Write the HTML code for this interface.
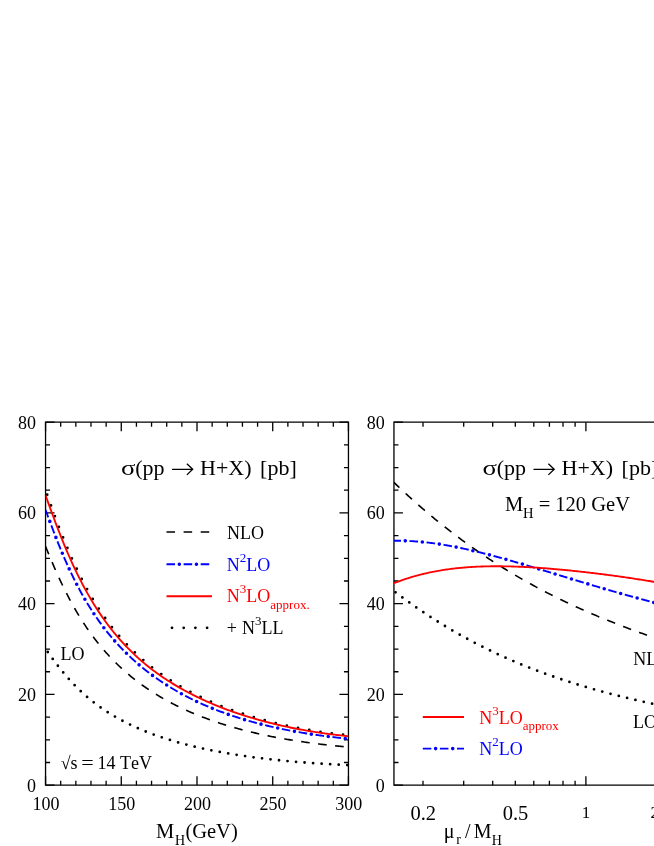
<!DOCTYPE html>
<html><head><meta charset="utf-8"><title>plot</title>
<style>
html,body{margin:0;padding:0;background:#fff;}
body{width:654px;height:846px;overflow:hidden;}
svg{display:block;font-family:"Liberation Serif",serif;will-change:transform;transform:translateZ(0);font-kerning:none;font-variant-ligatures:none;}
</style></head><body>
<svg width="654" height="846" viewBox="0 0 654 846">
<defs>
<clipPath id="c1"><rect x="45.55" y="422.15" width="302.9" height="363.05000000000007"/></clipPath>
<clipPath id="c2"><rect x="393.95" y="422.15" width="300" height="363.05000000000007"/></clipPath>
</defs>
<rect width="654" height="846" fill="#fff"/>
<path d="M45.55 422.15 H348.45 V785.2 H45.55 Z" stroke="#000" stroke-width="1.3" fill="none"/>
<path d="M700 422.15 H393.95 V785.2 H700" stroke="#000" stroke-width="1.3" fill="none"/>
<path d="M45.55 785.20 h9.0 M348.45 785.20 h-9.0 M393.95 785.20 h9.0 M45.55 762.51 h4.5 M348.45 762.51 h-4.5 M393.95 762.51 h4.5 M45.55 739.82 h4.5 M348.45 739.82 h-4.5 M393.95 739.82 h4.5 M45.55 717.13 h4.5 M348.45 717.13 h-4.5 M393.95 717.13 h4.5 M45.55 694.44 h9.0 M348.45 694.44 h-9.0 M393.95 694.44 h9.0 M45.55 671.75 h4.5 M348.45 671.75 h-4.5 M393.95 671.75 h4.5 M45.55 649.06 h4.5 M348.45 649.06 h-4.5 M393.95 649.06 h4.5 M45.55 626.37 h4.5 M348.45 626.37 h-4.5 M393.95 626.37 h4.5 M45.55 603.67 h9.0 M348.45 603.67 h-9.0 M393.95 603.67 h9.0 M45.55 580.98 h4.5 M348.45 580.98 h-4.5 M393.95 580.98 h4.5 M45.55 558.29 h4.5 M348.45 558.29 h-4.5 M393.95 558.29 h4.5 M45.55 535.60 h4.5 M348.45 535.60 h-4.5 M393.95 535.60 h4.5 M45.55 512.91 h9.0 M348.45 512.91 h-9.0 M393.95 512.91 h9.0 M45.55 490.22 h4.5 M348.45 490.22 h-4.5 M393.95 490.22 h4.5 M45.55 467.53 h4.5 M348.45 467.53 h-4.5 M393.95 467.53 h4.5 M45.55 444.84 h4.5 M348.45 444.84 h-4.5 M393.95 444.84 h4.5 M45.55 422.15 h9.0 M348.45 422.15 h-9.0 M393.95 422.15 h9.0 M45.55 785.2 v-9.0 M45.55 422.15 v9.0 M60.69 785.2 v-4.5 M60.69 422.15 v4.5 M75.84 785.2 v-4.5 M75.84 422.15 v4.5 M90.98 785.2 v-4.5 M90.98 422.15 v4.5 M106.13 785.2 v-4.5 M106.13 422.15 v4.5 M121.27 785.2 v-9.0 M121.27 422.15 v9.0 M136.42 785.2 v-4.5 M136.42 422.15 v4.5 M151.56 785.2 v-4.5 M151.56 422.15 v4.5 M166.71 785.2 v-4.5 M166.71 422.15 v4.5 M181.86 785.2 v-4.5 M181.86 422.15 v4.5 M197.00 785.2 v-9.0 M197.00 422.15 v9.0 M212.14 785.2 v-4.5 M212.14 422.15 v4.5 M227.29 785.2 v-4.5 M227.29 422.15 v4.5 M242.44 785.2 v-4.5 M242.44 422.15 v4.5 M257.58 785.2 v-4.5 M257.58 422.15 v4.5 M272.72 785.2 v-9.0 M272.72 422.15 v9.0 M287.87 785.2 v-4.5 M287.87 422.15 v4.5 M303.01 785.2 v-4.5 M303.01 422.15 v4.5 M318.16 785.2 v-4.5 M318.16 422.15 v4.5 M333.31 785.2 v-4.5 M333.31 422.15 v4.5 M348.45 785.2 v-9.0 M348.45 422.15 v9.0 M423.00 785.2 v-4.5 M423.00 422.15 v4.5 M463.70 785.2 v-4.5 M463.70 422.15 v4.5 M492.70 785.2 v-4.5 M492.70 422.15 v4.5 M515.30 785.2 v-4.5 M515.30 422.15 v4.5 M533.80 785.2 v-4.5 M533.80 422.15 v4.5 M549.40 785.2 v-4.5 M549.40 422.15 v4.5 M563.00 785.2 v-4.5 M563.00 422.15 v4.5 M575.10 785.2 v-4.5 M575.10 422.15 v4.5 M585.90 785.2 v-9.0 M585.90 422.15 v9.0 M656.60 785.2 v-4.5 M656.60 422.15 v4.5" stroke="#000" stroke-width="1.3" fill="none"/>
<g clip-path="url(#c1)">
<path d="M45.55 648.89 L46.82 650.70 L48.08 652.50 L49.35 654.29 L50.62 656.06 L51.89 657.80 L53.15 659.53 L54.42 661.24 L55.69 662.92 L56.96 664.59 L58.22 666.22 L59.49 667.84 L60.76 669.42 L62.03 670.99 L63.29 672.53 L64.56 674.04 L65.83 675.53 L67.10 676.99 L68.36 678.43 L69.63 679.84 L70.90 681.22 L72.16 682.59 L73.43 683.92 L74.70 685.24 L75.97 686.53 L77.23 687.79 L78.50 689.04 L79.77 690.26 L81.04 691.46 L82.30 692.63 L83.57 693.79 L84.84 694.92 L86.11 696.03 L87.37 697.12 L88.64 698.20 L89.91 699.25 L91.18 700.28 L92.44 701.30 L93.71 702.29 L94.98 703.27 L96.24 704.23 L97.51 705.18 L98.78 706.11 L100.05 707.02 L101.31 707.91 L102.58 708.79 L103.85 709.65 L105.12 710.50 L106.38 711.34 L107.65 712.16 L108.92 712.96 L110.19 713.76 L111.45 714.53 L112.72 715.30 L113.99 716.05 L115.26 716.79 L116.52 717.52 L117.79 718.24 L119.06 718.94 L120.32 719.64 L121.59 720.32 L122.86 720.99 L124.13 721.65 L125.39 722.30 L126.66 722.94 L127.93 723.57 L129.20 724.19 L130.46 724.81 L131.73 725.41 L133.00 726.00 L134.27 726.58 L135.53 727.16 L136.80 727.72 L138.07 728.28 L139.33 728.83 L140.60 729.37 L141.87 729.91 L143.14 730.43 L144.40 730.95 L145.67 731.46 L146.94 731.97 L148.21 732.46 L149.47 732.95 L150.74 733.43 L152.01 733.91 L153.28 734.38 L154.54 734.84 L155.81 735.30 L157.08 735.74 L158.35 736.19 L159.61 736.63 L160.88 737.06 L162.15 737.48 L163.41 737.90 L164.68 738.32 L165.95 738.72 L167.22 739.13 L168.48 739.53 L169.75 739.92 L171.02 740.31 L172.29 740.69 L173.55 741.06 L174.82 741.44 L176.09 741.80 L177.36 742.17 L178.62 742.52 L179.89 742.88 L181.16 743.23 L182.43 743.57 L183.69 743.91 L184.96 744.24 L186.23 744.58 L187.49 744.90 L188.76 745.22 L190.03 745.54 L191.30 745.86 L192.56 746.17 L193.83 746.47 L195.10 746.78 L196.37 747.08 L197.63 747.37 L198.90 747.66 L200.17 747.95 L201.44 748.23 L202.70 748.51 L203.97 748.79 L205.24 749.06 L206.51 749.33 L207.77 749.60 L209.04 749.86 L210.31 750.12 L211.57 750.38 L212.84 750.63 L214.11 750.88 L215.38 751.13 L216.64 751.37 L217.91 751.61 L219.18 751.85 L220.45 752.09 L221.71 752.32 L222.98 752.55 L224.25 752.78 L225.52 753.00 L226.78 753.22 L228.05 753.44 L229.32 753.65 L230.59 753.87 L231.85 754.08 L233.12 754.28 L234.39 754.49 L235.65 754.69 L236.92 754.89 L238.19 755.09 L239.46 755.28 L240.72 755.47 L241.99 755.66 L243.26 755.85 L244.53 756.03 L245.79 756.22 L247.06 756.40 L248.33 756.58 L249.60 756.75 L250.86 756.92 L252.13 757.10 L253.40 757.26 L254.67 757.43 L255.93 757.60 L257.20 757.76 L258.47 757.92 L259.73 758.08 L261.00 758.23 L262.27 758.39 L263.54 758.54 L264.80 758.69 L266.07 758.84 L267.34 758.99 L268.61 759.13 L269.87 759.27 L271.14 759.42 L272.41 759.55 L273.68 759.69 L274.94 759.83 L276.21 759.96 L277.48 760.09 L278.74 760.22 L280.01 760.35 L281.28 760.48 L282.55 760.60 L283.81 760.73 L285.08 760.85 L286.35 760.97 L287.62 761.09 L288.88 761.20 L290.15 761.32 L291.42 761.43 L292.69 761.54 L293.95 761.65 L295.22 761.76 L296.49 761.87 L297.76 761.97 L299.02 762.08 L300.29 762.18 L301.56 762.28 L302.82 762.38 L304.09 762.48 L305.36 762.58 L306.63 762.67 L307.89 762.77 L309.16 762.86 L310.43 762.95 L311.70 763.04 L312.96 763.13 L314.23 763.22 L315.50 763.30 L316.77 763.39 L318.03 763.47 L319.30 763.55 L320.57 763.63 L321.84 763.71 L323.10 763.79 L324.37 763.87 L325.64 763.94 L326.90 764.02 L328.17 764.09 L329.44 764.16 L330.71 764.23 L331.97 764.30 L333.24 764.37 L334.51 764.44 L335.78 764.50 L337.04 764.57 L338.31 764.63 L339.58 764.69 L340.85 764.76 L342.11 764.82 L343.38 764.88 L344.65 764.93 L345.92 764.99 L347.18 765.05 L348.45 765.10" fill="none" stroke="#000" stroke-width="2.8" stroke-linecap="round" stroke-dasharray="0 8.55" stroke-dashoffset="-3.8"/>
<path d="M45.55 546.32 L46.82 549.46 L48.08 552.58 L49.35 555.66 L50.62 558.70 L51.89 561.71 L53.15 564.68 L54.42 567.60 L55.69 570.49 L56.96 573.33 L58.22 576.12 L59.49 578.88 L60.76 581.59 L62.03 584.25 L63.29 586.87 L64.56 589.44 L65.83 591.97 L67.10 594.46 L68.36 596.90 L69.63 599.30 L70.90 601.66 L72.16 603.97 L73.43 606.25 L74.70 608.48 L75.97 610.67 L77.23 612.82 L78.50 614.93 L79.77 617.01 L81.04 619.04 L82.30 621.04 L83.57 623.01 L84.84 624.93 L86.11 626.83 L87.37 628.68 L88.64 630.51 L89.91 632.30 L91.18 634.06 L92.44 635.79 L93.71 637.49 L94.98 639.16 L96.24 640.79 L97.51 642.40 L98.78 643.99 L100.05 645.54 L101.31 647.07 L102.58 648.57 L103.85 650.05 L105.12 651.50 L106.38 652.92 L107.65 654.33 L108.92 655.71 L110.19 657.06 L111.45 658.40 L112.72 659.71 L113.99 661.00 L115.26 662.27 L116.52 663.52 L117.79 664.75 L119.06 665.96 L120.32 667.15 L121.59 668.32 L122.86 669.47 L124.13 670.61 L125.39 671.73 L126.66 672.83 L127.93 673.91 L129.20 674.98 L130.46 676.03 L131.73 677.07 L133.00 678.09 L134.27 679.10 L135.53 680.09 L136.80 681.06 L138.07 682.02 L139.33 682.97 L140.60 683.91 L141.87 684.83 L143.14 685.74 L144.40 686.63 L145.67 687.51 L146.94 688.38 L148.21 689.24 L149.47 690.09 L150.74 690.92 L152.01 691.74 L153.28 692.55 L154.54 693.36 L155.81 694.14 L157.08 694.92 L158.35 695.69 L159.61 696.45 L160.88 697.20 L162.15 697.93 L163.41 698.66 L164.68 699.38 L165.95 700.09 L167.22 700.79 L168.48 701.48 L169.75 702.16 L171.02 702.83 L172.29 703.50 L173.55 704.15 L174.82 704.80 L176.09 705.44 L177.36 706.07 L178.62 706.69 L179.89 707.31 L181.16 707.91 L182.43 708.51 L183.69 709.10 L184.96 709.69 L186.23 710.26 L187.49 710.83 L188.76 711.39 L190.03 711.95 L191.30 712.50 L192.56 713.04 L193.83 713.57 L195.10 714.10 L196.37 714.62 L197.63 715.14 L198.90 715.65 L200.17 716.15 L201.44 716.65 L202.70 717.14 L203.97 717.62 L205.24 718.10 L206.51 718.57 L207.77 719.04 L209.04 719.50 L210.31 719.96 L211.57 720.41 L212.84 720.85 L214.11 721.29 L215.38 721.72 L216.64 722.15 L217.91 722.57 L219.18 722.99 L220.45 723.41 L221.71 723.81 L222.98 724.22 L224.25 724.62 L225.52 725.01 L226.78 725.40 L228.05 725.78 L229.32 726.16 L230.59 726.54 L231.85 726.91 L233.12 727.27 L234.39 727.63 L235.65 727.99 L236.92 728.34 L238.19 728.69 L239.46 729.04 L240.72 729.38 L241.99 729.71 L243.26 730.05 L244.53 730.37 L245.79 730.70 L247.06 731.02 L248.33 731.33 L249.60 731.65 L250.86 731.96 L252.13 732.26 L253.40 732.56 L254.67 732.86 L255.93 733.15 L257.20 733.44 L258.47 733.73 L259.73 734.01 L261.00 734.29 L262.27 734.57 L263.54 734.84 L264.80 735.11 L266.07 735.38 L267.34 735.64 L268.61 735.90 L269.87 736.16 L271.14 736.42 L272.41 736.67 L273.68 736.91 L274.94 737.16 L276.21 737.40 L277.48 737.64 L278.74 737.87 L280.01 738.11 L281.28 738.34 L282.55 738.56 L283.81 738.79 L285.08 739.01 L286.35 739.23 L287.62 739.44 L288.88 739.66 L290.15 739.87 L291.42 740.08 L292.69 740.28 L293.95 740.48 L295.22 740.68 L296.49 740.88 L297.76 741.08 L299.02 741.27 L300.29 741.46 L301.56 741.65 L302.82 741.83 L304.09 742.02 L305.36 742.20 L306.63 742.38 L307.89 742.55 L309.16 742.73 L310.43 742.90 L311.70 743.07 L312.96 743.23 L314.23 743.40 L315.50 743.56 L316.77 743.72 L318.03 743.88 L319.30 744.04 L320.57 744.19 L321.84 744.34 L323.10 744.49 L324.37 744.64 L325.64 744.79 L326.90 744.93 L328.17 745.07 L329.44 745.21 L330.71 745.35 L331.97 745.49 L333.24 745.62 L334.51 745.75 L335.78 745.88 L337.04 746.01 L338.31 746.14 L339.58 746.26 L340.85 746.39 L342.11 746.51 L343.38 746.63 L344.65 746.75 L345.92 746.86 L347.18 746.98 L348.45 747.09" fill="none" stroke="#000" stroke-width="1.6" stroke-dasharray="8.55 8.55" stroke-dashoffset="0.0"/>
<path d="M45.55 490.00 L46.82 493.63 L48.08 497.24 L49.35 500.83 L50.62 504.39 L51.89 507.92 L53.15 511.43 L54.42 514.90 L55.69 518.33 L56.96 521.72 L58.22 525.08 L59.49 528.39 L60.76 531.66 L62.03 534.88 L63.29 538.06 L64.56 541.19 L65.83 544.28 L67.10 547.32 L68.36 550.31 L69.63 553.26 L70.90 556.15 L72.16 559.00 L73.43 561.81 L74.70 564.56 L75.97 567.27 L77.23 569.94 L78.50 572.56 L79.77 575.13 L81.04 577.66 L82.30 580.14 L83.57 582.58 L84.84 584.98 L86.11 587.33 L87.37 589.64 L88.64 591.91 L89.91 594.14 L91.18 596.34 L92.44 598.49 L93.71 600.60 L94.98 602.68 L96.24 604.72 L97.51 606.72 L98.78 608.68 L100.05 610.62 L101.31 612.51 L102.58 614.38 L103.85 616.21 L105.12 618.01 L106.38 619.78 L107.65 621.51 L108.92 623.22 L110.19 624.90 L111.45 626.55 L112.72 628.17 L113.99 629.76 L115.26 631.33 L116.52 632.87 L117.79 634.38 L119.06 635.87 L120.32 637.33 L121.59 638.77 L122.86 640.19 L124.13 641.58 L125.39 642.95 L126.66 644.30 L127.93 645.62 L129.20 646.93 L130.46 648.21 L131.73 649.48 L133.00 650.72 L134.27 651.94 L135.53 653.15 L136.80 654.34 L138.07 655.51 L139.33 656.66 L140.60 657.79 L141.87 658.91 L143.14 660.01 L144.40 661.09 L145.67 662.16 L146.94 663.22 L148.21 664.25 L149.47 665.28 L150.74 666.28 L152.01 667.28 L153.28 668.26 L154.54 669.22 L155.81 670.17 L157.08 671.11 L158.35 672.04 L159.61 672.95 L160.88 673.85 L162.15 674.74 L163.41 675.62 L164.68 676.49 L165.95 677.34 L167.22 678.18 L168.48 679.01 L169.75 679.83 L171.02 680.64 L172.29 681.44 L173.55 682.23 L174.82 683.01 L176.09 683.78 L177.36 684.54 L178.62 685.29 L179.89 686.03 L181.16 686.77 L182.43 687.49 L183.69 688.20 L184.96 688.91 L186.23 689.61 L187.49 690.29 L188.76 690.97 L190.03 691.65 L191.30 692.31 L192.56 692.96 L193.83 693.61 L195.10 694.25 L196.37 694.89 L197.63 695.51 L198.90 696.13 L200.17 696.74 L201.44 697.35 L202.70 697.94 L203.97 698.53 L205.24 699.12 L206.51 699.69 L207.77 700.26 L209.04 700.83 L210.31 701.38 L211.57 701.94 L212.84 702.48 L214.11 703.02 L215.38 703.55 L216.64 704.08 L217.91 704.60 L219.18 705.11 L220.45 705.62 L221.71 706.13 L222.98 706.62 L224.25 707.12 L225.52 707.60 L226.78 708.09 L228.05 708.56 L229.32 709.03 L230.59 709.50 L231.85 709.96 L233.12 710.41 L234.39 710.86 L235.65 711.31 L236.92 711.75 L238.19 712.19 L239.46 712.62 L240.72 713.04 L241.99 713.46 L243.26 713.88 L244.53 714.29 L245.79 714.70 L247.06 715.10 L248.33 715.50 L249.60 715.89 L250.86 716.28 L252.13 716.67 L253.40 717.05 L254.67 717.42 L255.93 717.80 L257.20 718.16 L258.47 718.53 L259.73 718.89 L261.00 719.24 L262.27 719.59 L263.54 719.94 L264.80 720.28 L266.07 720.62 L267.34 720.96 L268.61 721.29 L269.87 721.62 L271.14 721.94 L272.41 722.26 L273.68 722.57 L274.94 722.89 L276.21 723.19 L277.48 723.50 L278.74 723.80 L280.01 724.10 L281.28 724.39 L282.55 724.68 L283.81 724.97 L285.08 725.25 L286.35 725.53 L287.62 725.80 L288.88 726.08 L290.15 726.35 L291.42 726.61 L292.69 726.87 L293.95 727.13 L295.22 727.39 L296.49 727.64 L297.76 727.89 L299.02 728.13 L300.29 728.37 L301.56 728.61 L302.82 728.84 L304.09 729.08 L305.36 729.30 L306.63 729.53 L307.89 729.75 L309.16 729.97 L310.43 730.19 L311.70 730.40 L312.96 730.61 L314.23 730.81 L315.50 731.02 L316.77 731.22 L318.03 731.41 L319.30 731.61 L320.57 731.80 L321.84 731.98 L323.10 732.17 L324.37 732.35 L325.64 732.53 L326.90 732.70 L328.17 732.87 L329.44 733.04 L330.71 733.21 L331.97 733.37 L333.24 733.53 L334.51 733.69 L335.78 733.84 L337.04 734.00 L338.31 734.14 L339.58 734.29 L340.85 734.43 L342.11 734.57 L343.38 734.71 L344.65 734.84 L345.92 734.97 L347.18 735.10 L348.45 735.23" fill="none" stroke="#000" stroke-width="2.8" stroke-linecap="round" stroke-dasharray="0 11.39" stroke-dashoffset="-5.0"/>
<path d="M45.55 509.83 L46.82 513.29 L48.08 516.73 L49.35 520.16 L50.62 523.56 L51.89 526.94 L53.15 530.28 L54.42 533.59 L55.69 536.86 L56.96 540.09 L58.22 543.28 L59.49 546.42 L60.76 549.51 L62.03 552.56 L63.29 555.56 L64.56 558.51 L65.83 561.41 L67.10 564.26 L68.36 567.06 L69.63 569.81 L70.90 572.51 L72.16 575.17 L73.43 577.77 L74.70 580.33 L75.97 582.84 L77.23 585.31 L78.50 587.72 L79.77 590.10 L81.04 592.43 L82.30 594.71 L83.57 596.95 L84.84 599.15 L86.11 601.31 L87.37 603.43 L88.64 605.51 L89.91 607.56 L91.18 609.56 L92.44 611.53 L93.71 613.46 L94.98 615.36 L96.24 617.22 L97.51 619.05 L98.78 620.84 L100.05 622.61 L101.31 624.34 L102.58 626.04 L103.85 627.72 L105.12 629.36 L106.38 630.98 L107.65 632.57 L108.92 634.13 L110.19 635.67 L111.45 637.18 L112.72 638.66 L113.99 640.13 L115.26 641.56 L116.52 642.98 L117.79 644.37 L119.06 645.74 L120.32 647.09 L121.59 648.42 L122.86 649.72 L124.13 651.01 L125.39 652.28 L126.66 653.52 L127.93 654.75 L129.20 655.96 L130.46 657.16 L131.73 658.33 L133.00 659.49 L134.27 660.63 L135.53 661.76 L136.80 662.87 L138.07 663.96 L139.33 665.04 L140.60 666.10 L141.87 667.15 L143.14 668.18 L144.40 669.20 L145.67 670.21 L146.94 671.20 L148.21 672.17 L149.47 673.14 L150.74 674.09 L152.01 675.03 L153.28 675.96 L154.54 676.87 L155.81 677.77 L157.08 678.67 L158.35 679.54 L159.61 680.41 L160.88 681.27 L162.15 682.11 L163.41 682.95 L164.68 683.77 L165.95 684.59 L167.22 685.39 L168.48 686.18 L169.75 686.97 L171.02 687.74 L172.29 688.50 L173.55 689.26 L174.82 690.00 L176.09 690.74 L177.36 691.47 L178.62 692.18 L179.89 692.89 L181.16 693.59 L182.43 694.28 L183.69 694.97 L184.96 695.64 L186.23 696.31 L187.49 696.96 L188.76 697.61 L190.03 698.26 L191.30 698.89 L192.56 699.52 L193.83 700.14 L195.10 700.75 L196.37 701.35 L197.63 701.95 L198.90 702.54 L200.17 703.12 L201.44 703.70 L202.70 704.26 L203.97 704.83 L205.24 705.38 L206.51 705.93 L207.77 706.47 L209.04 707.01 L210.31 707.53 L211.57 708.06 L212.84 708.57 L214.11 709.08 L215.38 709.59 L216.64 710.08 L217.91 710.58 L219.18 711.06 L220.45 711.54 L221.71 712.01 L222.98 712.48 L224.25 712.95 L225.52 713.40 L226.78 713.85 L228.05 714.30 L229.32 714.74 L230.59 715.17 L231.85 715.60 L233.12 716.03 L234.39 716.45 L235.65 716.86 L236.92 717.27 L238.19 717.68 L239.46 718.08 L240.72 718.47 L241.99 718.86 L243.26 719.25 L244.53 719.63 L245.79 720.00 L247.06 720.37 L248.33 720.74 L249.60 721.10 L250.86 721.46 L252.13 721.81 L253.40 722.16 L254.67 722.50 L255.93 722.84 L257.20 723.18 L258.47 723.51 L259.73 723.84 L261.00 724.16 L262.27 724.48 L263.54 724.80 L264.80 725.11 L266.07 725.42 L267.34 725.72 L268.61 726.02 L269.87 726.32 L271.14 726.61 L272.41 726.90 L273.68 727.18 L274.94 727.46 L276.21 727.74 L277.48 728.01 L278.74 728.29 L280.01 728.55 L281.28 728.82 L282.55 729.08 L283.81 729.34 L285.08 729.59 L286.35 729.84 L287.62 730.09 L288.88 730.33 L290.15 730.57 L291.42 730.81 L292.69 731.05 L293.95 731.28 L295.22 731.51 L296.49 731.73 L297.76 731.96 L299.02 732.18 L300.29 732.39 L301.56 732.61 L302.82 732.82 L304.09 733.03 L305.36 733.23 L306.63 733.44 L307.89 733.64 L309.16 733.84 L310.43 734.03 L311.70 734.22 L312.96 734.41 L314.23 734.60 L315.50 734.79 L316.77 734.97 L318.03 735.15 L319.30 735.33 L320.57 735.50 L321.84 735.68 L323.10 735.85 L324.37 736.01 L325.64 736.18 L326.90 736.34 L328.17 736.51 L329.44 736.67 L330.71 736.82 L331.97 736.98 L333.24 737.13 L334.51 737.28 L335.78 737.43 L337.04 737.58 L338.31 737.72 L339.58 737.87 L340.85 738.01 L342.11 738.14 L343.38 738.28 L344.65 738.42 L345.92 738.55 L347.18 738.68 L348.45 738.81" fill="none" stroke="#00f" stroke-width="1.9" stroke-dasharray="8.55 8.55" stroke-dashoffset="0.5"/><path d="M45.55 509.83 L46.82 513.29 L48.08 516.73 L49.35 520.16 L50.62 523.56 L51.89 526.94 L53.15 530.28 L54.42 533.59 L55.69 536.86 L56.96 540.09 L58.22 543.28 L59.49 546.42 L60.76 549.51 L62.03 552.56 L63.29 555.56 L64.56 558.51 L65.83 561.41 L67.10 564.26 L68.36 567.06 L69.63 569.81 L70.90 572.51 L72.16 575.17 L73.43 577.77 L74.70 580.33 L75.97 582.84 L77.23 585.31 L78.50 587.72 L79.77 590.10 L81.04 592.43 L82.30 594.71 L83.57 596.95 L84.84 599.15 L86.11 601.31 L87.37 603.43 L88.64 605.51 L89.91 607.56 L91.18 609.56 L92.44 611.53 L93.71 613.46 L94.98 615.36 L96.24 617.22 L97.51 619.05 L98.78 620.84 L100.05 622.61 L101.31 624.34 L102.58 626.04 L103.85 627.72 L105.12 629.36 L106.38 630.98 L107.65 632.57 L108.92 634.13 L110.19 635.67 L111.45 637.18 L112.72 638.66 L113.99 640.13 L115.26 641.56 L116.52 642.98 L117.79 644.37 L119.06 645.74 L120.32 647.09 L121.59 648.42 L122.86 649.72 L124.13 651.01 L125.39 652.28 L126.66 653.52 L127.93 654.75 L129.20 655.96 L130.46 657.16 L131.73 658.33 L133.00 659.49 L134.27 660.63 L135.53 661.76 L136.80 662.87 L138.07 663.96 L139.33 665.04 L140.60 666.10 L141.87 667.15 L143.14 668.18 L144.40 669.20 L145.67 670.21 L146.94 671.20 L148.21 672.17 L149.47 673.14 L150.74 674.09 L152.01 675.03 L153.28 675.96 L154.54 676.87 L155.81 677.77 L157.08 678.67 L158.35 679.54 L159.61 680.41 L160.88 681.27 L162.15 682.11 L163.41 682.95 L164.68 683.77 L165.95 684.59 L167.22 685.39 L168.48 686.18 L169.75 686.97 L171.02 687.74 L172.29 688.50 L173.55 689.26 L174.82 690.00 L176.09 690.74 L177.36 691.47 L178.62 692.18 L179.89 692.89 L181.16 693.59 L182.43 694.28 L183.69 694.97 L184.96 695.64 L186.23 696.31 L187.49 696.96 L188.76 697.61 L190.03 698.26 L191.30 698.89 L192.56 699.52 L193.83 700.14 L195.10 700.75 L196.37 701.35 L197.63 701.95 L198.90 702.54 L200.17 703.12 L201.44 703.70 L202.70 704.26 L203.97 704.83 L205.24 705.38 L206.51 705.93 L207.77 706.47 L209.04 707.01 L210.31 707.53 L211.57 708.06 L212.84 708.57 L214.11 709.08 L215.38 709.59 L216.64 710.08 L217.91 710.58 L219.18 711.06 L220.45 711.54 L221.71 712.01 L222.98 712.48 L224.25 712.95 L225.52 713.40 L226.78 713.85 L228.05 714.30 L229.32 714.74 L230.59 715.17 L231.85 715.60 L233.12 716.03 L234.39 716.45 L235.65 716.86 L236.92 717.27 L238.19 717.68 L239.46 718.08 L240.72 718.47 L241.99 718.86 L243.26 719.25 L244.53 719.63 L245.79 720.00 L247.06 720.37 L248.33 720.74 L249.60 721.10 L250.86 721.46 L252.13 721.81 L253.40 722.16 L254.67 722.50 L255.93 722.84 L257.20 723.18 L258.47 723.51 L259.73 723.84 L261.00 724.16 L262.27 724.48 L263.54 724.80 L264.80 725.11 L266.07 725.42 L267.34 725.72 L268.61 726.02 L269.87 726.32 L271.14 726.61 L272.41 726.90 L273.68 727.18 L274.94 727.46 L276.21 727.74 L277.48 728.01 L278.74 728.29 L280.01 728.55 L281.28 728.82 L282.55 729.08 L283.81 729.34 L285.08 729.59 L286.35 729.84 L287.62 730.09 L288.88 730.33 L290.15 730.57 L291.42 730.81 L292.69 731.05 L293.95 731.28 L295.22 731.51 L296.49 731.73 L297.76 731.96 L299.02 732.18 L300.29 732.39 L301.56 732.61 L302.82 732.82 L304.09 733.03 L305.36 733.23 L306.63 733.44 L307.89 733.64 L309.16 733.84 L310.43 734.03 L311.70 734.22 L312.96 734.41 L314.23 734.60 L315.50 734.79 L316.77 734.97 L318.03 735.15 L319.30 735.33 L320.57 735.50 L321.84 735.68 L323.10 735.85 L324.37 736.01 L325.64 736.18 L326.90 736.34 L328.17 736.51 L329.44 736.67 L330.71 736.82 L331.97 736.98 L333.24 737.13 L334.51 737.28 L335.78 737.43 L337.04 737.58 L338.31 737.72 L339.58 737.87 L340.85 738.01 L342.11 738.14 L343.38 738.28 L344.65 738.42 L345.92 738.55 L347.18 738.68 L348.45 738.81" fill="none" stroke="#00f" stroke-width="3.6" stroke-linecap="round" stroke-dasharray="0 17.1" stroke-dashoffset="-12.325000000000001"/>
<path d="M45.55 495.22 L46.82 498.79 L48.08 502.33 L49.35 505.86 L50.62 509.36 L51.89 512.84 L53.15 516.28 L54.42 519.69 L55.69 523.07 L56.96 526.40 L58.22 529.70 L59.49 532.95 L60.76 536.16 L62.03 539.33 L63.29 542.46 L64.56 545.54 L65.83 548.57 L67.10 551.56 L68.36 554.50 L69.63 557.39 L70.90 560.24 L72.16 563.04 L73.43 565.80 L74.70 568.51 L75.97 571.17 L77.23 573.79 L78.50 576.36 L79.77 578.89 L81.04 581.37 L82.30 583.81 L83.57 586.21 L84.84 588.57 L86.11 590.88 L87.37 593.15 L88.64 595.38 L89.91 597.58 L91.18 599.73 L92.44 601.84 L93.71 603.92 L94.98 605.96 L96.24 607.96 L97.51 609.93 L98.78 611.87 L100.05 613.76 L101.31 615.63 L102.58 617.46 L103.85 619.26 L105.12 621.03 L106.38 622.77 L107.65 624.47 L108.92 626.15 L110.19 627.80 L111.45 629.42 L112.72 631.01 L113.99 632.58 L115.26 634.12 L116.52 635.63 L117.79 637.12 L119.06 638.58 L120.32 640.02 L121.59 641.43 L122.86 642.82 L124.13 644.19 L125.39 645.54 L126.66 646.86 L127.93 648.16 L129.20 649.45 L130.46 650.71 L131.73 651.95 L133.00 653.17 L134.27 654.38 L135.53 655.56 L136.80 656.73 L138.07 657.88 L139.33 659.01 L140.60 660.12 L141.87 661.22 L143.14 662.30 L144.40 663.37 L145.67 664.42 L146.94 665.45 L148.21 666.47 L149.47 667.48 L150.74 668.47 L152.01 669.44 L153.28 670.40 L154.54 671.35 L155.81 672.29 L157.08 673.21 L158.35 674.12 L159.61 675.02 L160.88 675.91 L162.15 676.78 L163.41 677.64 L164.68 678.49 L165.95 679.33 L167.22 680.16 L168.48 680.97 L169.75 681.78 L171.02 682.58 L172.29 683.36 L173.55 684.14 L174.82 684.90 L176.09 685.66 L177.36 686.41 L178.62 687.14 L179.89 687.87 L181.16 688.59 L182.43 689.30 L183.69 690.00 L184.96 690.70 L186.23 691.38 L187.49 692.06 L188.76 692.73 L190.03 693.39 L191.30 694.04 L192.56 694.68 L193.83 695.32 L195.10 695.95 L196.37 696.57 L197.63 697.18 L198.90 697.79 L200.17 698.39 L201.44 698.99 L202.70 699.57 L203.97 700.15 L205.24 700.73 L206.51 701.29 L207.77 701.85 L209.04 702.41 L210.31 702.95 L211.57 703.50 L212.84 704.03 L214.11 704.56 L215.38 705.08 L216.64 705.60 L217.91 706.11 L219.18 706.62 L220.45 707.12 L221.71 707.61 L222.98 708.10 L224.25 708.59 L225.52 709.07 L226.78 709.54 L228.05 710.01 L229.32 710.47 L230.59 710.93 L231.85 711.38 L233.12 711.83 L234.39 712.27 L235.65 712.71 L236.92 713.14 L238.19 713.57 L239.46 713.99 L240.72 714.41 L241.99 714.82 L243.26 715.23 L244.53 715.63 L245.79 716.03 L247.06 716.43 L248.33 716.82 L249.60 717.21 L250.86 717.59 L252.13 717.97 L253.40 718.34 L254.67 718.71 L255.93 719.08 L257.20 719.44 L258.47 719.80 L259.73 720.15 L261.00 720.50 L262.27 720.84 L263.54 721.18 L264.80 721.52 L266.07 721.85 L267.34 722.18 L268.61 722.51 L269.87 722.83 L271.14 723.15 L272.41 723.46 L273.68 723.77 L274.94 724.08 L276.21 724.38 L277.48 724.68 L278.74 724.98 L280.01 725.27 L281.28 725.56 L282.55 725.84 L283.81 726.12 L285.08 726.40 L286.35 726.68 L287.62 726.95 L288.88 727.21 L290.15 727.48 L291.42 727.74 L292.69 728.00 L293.95 728.25 L295.22 728.50 L296.49 728.75 L297.76 728.99 L299.02 729.23 L300.29 729.47 L301.56 729.70 L302.82 729.93 L304.09 730.16 L305.36 730.39 L306.63 730.61 L307.89 730.82 L309.16 731.04 L310.43 731.25 L311.70 731.46 L312.96 731.67 L314.23 731.87 L315.50 732.07 L316.77 732.26 L318.03 732.46 L319.30 732.65 L320.57 732.83 L321.84 733.02 L323.10 733.20 L324.37 733.38 L325.64 733.55 L326.90 733.72 L328.17 733.89 L329.44 734.06 L330.71 734.22 L331.97 734.38 L333.24 734.54 L334.51 734.70 L335.78 734.85 L337.04 735.00 L338.31 735.14 L339.58 735.29 L340.85 735.43 L342.11 735.56 L343.38 735.70 L344.65 735.83 L345.92 735.96 L347.18 736.08 L348.45 736.21" fill="none" stroke="#f00" stroke-width="1.85"/>
</g>
<g clip-path="url(#c2)">
<path d="M393.95 591.07 L395.34 592.13 L396.72 593.19 L398.11 594.24 L399.50 595.28 L400.89 596.32 L402.27 597.35 L403.66 598.38 L405.05 599.39 L406.43 600.40 L407.82 601.41 L409.21 602.41 L410.60 603.40 L411.98 604.38 L413.37 605.36 L414.76 606.34 L416.14 607.30 L417.53 608.26 L418.92 609.22 L420.31 610.17 L421.69 611.11 L423.08 612.04 L424.47 612.97 L425.86 613.90 L427.24 614.81 L428.63 615.72 L430.02 616.63 L431.40 617.53 L432.79 618.42 L434.18 619.31 L435.57 620.19 L436.95 621.07 L438.34 621.94 L439.73 622.80 L441.11 623.66 L442.50 624.51 L443.89 625.36 L445.28 626.20 L446.66 627.04 L448.05 627.87 L449.44 628.69 L450.82 629.51 L452.21 630.33 L453.60 631.13 L454.99 631.94 L456.37 632.73 L457.76 633.52 L459.15 634.31 L460.53 635.09 L461.92 635.87 L463.31 636.64 L464.70 637.40 L466.08 638.16 L467.47 638.92 L468.86 639.66 L470.25 640.41 L471.63 641.15 L473.02 641.88 L474.41 642.61 L475.79 643.33 L477.18 644.05 L478.57 644.76 L479.96 645.47 L481.34 646.18 L482.73 646.87 L484.12 647.57 L485.50 648.26 L486.89 648.94 L488.28 649.62 L489.67 650.29 L491.05 650.96 L492.44 651.63 L493.83 652.29 L495.21 652.94 L496.60 653.59 L497.99 654.24 L499.38 654.88 L500.76 655.52 L502.15 656.15 L503.54 656.78 L504.92 657.40 L506.31 658.02 L507.70 658.63 L509.09 659.24 L510.47 659.85 L511.86 660.45 L513.25 661.05 L514.64 661.64 L516.02 662.23 L517.41 662.81 L518.80 663.39 L520.18 663.97 L521.57 664.54 L522.96 665.11 L524.35 665.67 L525.73 666.23 L527.12 666.79 L528.51 667.34 L529.89 667.88 L531.28 668.43 L532.67 668.97 L534.06 669.50 L535.44 670.03 L536.83 670.56 L538.22 671.09 L539.60 671.61 L540.99 672.12 L542.38 672.63 L543.77 673.14 L545.15 673.65 L546.54 674.15 L547.93 674.65 L549.31 675.14 L550.70 675.63 L552.09 676.12 L553.48 676.60 L554.86 677.08 L556.25 677.56 L557.64 678.03 L559.03 678.50 L560.41 678.97 L561.80 679.43 L563.19 679.89 L564.57 680.35 L565.96 680.80 L567.35 681.25 L568.74 681.70 L570.12 682.14 L571.51 682.58 L572.90 683.02 L574.28 683.45 L575.67 683.88 L577.06 684.31 L578.45 684.74 L579.83 685.16 L581.22 685.58 L582.61 685.99 L583.99 686.41 L585.38 686.82 L586.77 687.22 L588.16 687.63 L589.54 688.03 L590.93 688.43 L592.32 688.83 L593.70 689.22 L595.09 689.61 L596.48 690.00 L597.87 690.38 L599.25 690.77 L600.64 691.15 L602.03 691.52 L603.42 691.90 L604.80 692.27 L606.19 692.64 L607.58 693.01 L608.96 693.38 L610.35 693.74 L611.74 694.10 L613.13 694.46 L614.51 694.81 L615.90 695.17 L617.29 695.52 L618.67 695.87 L620.06 696.22 L621.45 696.56 L622.84 696.90 L624.22 697.24 L625.61 697.58 L627.00 697.92 L628.38 698.25 L629.77 698.59 L631.16 698.92 L632.55 699.25 L633.93 699.57 L635.32 699.90 L636.71 700.22 L638.09 700.54 L639.48 700.86 L640.87 701.18 L642.26 701.49 L643.64 701.81 L645.03 702.12 L646.42 702.43 L647.81 702.74 L649.19 703.05 L650.58 703.35 L651.97 703.66 L653.35 703.96 L654.74 704.26 L656.13 704.56 L657.52 704.86 L658.90 705.16 L660.29 705.45 L661.68 705.75 L663.06 706.04 L664.45 706.33 L665.84 706.62 L667.23 706.91 L668.61 707.20 L670.00 707.49" fill="none" stroke="#000" stroke-width="2.8" stroke-linecap="round" stroke-dasharray="0 8.55" stroke-dashoffset="-2"/>
<path d="M393.95 482.42 L395.22 483.64 L396.49 484.86 L397.76 486.08 L399.04 487.29 L400.31 488.49 L401.58 489.69 L402.85 490.88 L404.12 492.06 L405.39 493.24 L406.67 494.41 L407.94 495.58 L409.21 496.74 L410.48 497.89 L411.75 499.04 L413.02 500.19 L414.30 501.32 L415.57 502.45 L416.84 503.58 L418.11 504.70 L419.38 505.82 L420.65 506.93 L421.93 508.03 L423.20 509.13 L424.47 510.22 L425.74 511.31 L427.01 512.39 L428.28 513.47 L429.56 514.54 L430.83 515.60 L432.10 516.66 L433.37 517.71 L434.64 518.76 L435.91 519.81 L437.18 520.85 L438.46 521.88 L439.73 522.91 L441.00 523.93 L442.27 524.94 L443.54 525.96 L444.81 526.96 L446.09 527.96 L447.36 528.96 L448.63 529.95 L449.90 530.94 L451.17 531.92 L452.44 532.89 L453.72 533.86 L454.99 534.83 L456.26 535.79 L457.53 536.74 L458.80 537.69 L460.07 538.64 L461.35 539.58 L462.62 540.52 L463.89 541.45 L465.16 542.37 L466.43 543.29 L467.70 544.21 L468.97 545.12 L470.25 546.03 L471.52 546.93 L472.79 547.83 L474.06 548.72 L475.33 549.61 L476.60 550.49 L477.88 551.37 L479.15 552.24 L480.42 553.11 L481.69 553.97 L482.96 554.83 L484.23 555.69 L485.51 556.54 L486.78 557.38 L488.05 558.23 L489.32 559.06 L490.59 559.90 L491.86 560.72 L493.14 561.55 L494.41 562.37 L495.68 563.18 L496.95 563.99 L498.22 564.80 L499.49 565.60 L500.77 566.40 L502.04 567.19 L503.31 567.98 L504.58 568.77 L505.85 569.55 L507.12 570.32 L508.39 571.10 L509.67 571.87 L510.94 572.63 L512.21 573.39 L513.48 574.15 L514.75 574.90 L516.02 575.65 L517.30 576.39 L518.57 577.13 L519.84 577.87 L521.11 578.60 L522.38 579.33 L523.65 580.05 L524.93 580.77 L526.20 581.49 L527.47 582.20 L528.74 582.91 L530.01 583.62 L531.28 584.32 L532.56 585.01 L533.83 585.71 L535.10 586.40 L536.37 587.09 L537.64 587.77 L538.91 588.45 L540.18 589.12 L541.46 589.80 L542.73 590.46 L544.00 591.13 L545.27 591.79 L546.54 592.45 L547.81 593.10 L549.09 593.75 L550.36 594.40 L551.63 595.04 L552.90 595.69 L554.17 596.32 L555.44 596.96 L556.72 597.59 L557.99 598.21 L559.26 598.84 L560.53 599.46 L561.80 600.08 L563.07 600.69 L564.35 601.30 L565.62 601.91 L566.89 602.51 L568.16 603.12 L569.43 603.71 L570.70 604.31 L571.98 604.90 L573.25 605.49 L574.52 606.08 L575.79 606.66 L577.06 607.24 L578.33 607.82 L579.60 608.39 L580.88 608.96 L582.15 609.53 L583.42 610.10 L584.69 610.66 L585.96 611.22 L587.23 611.78 L588.51 612.33 L589.78 612.88 L591.05 613.43 L592.32 613.97 L593.59 614.52 L594.86 615.06 L596.14 615.60 L597.41 616.13 L598.68 616.66 L599.95 617.19 L601.22 617.72 L602.49 618.25 L603.77 618.77 L605.04 619.29 L606.31 619.80 L607.58 620.32 L608.85 620.83 L610.12 621.34 L611.39 621.85 L612.67 622.35 L613.94 622.85 L615.21 623.35 L616.48 623.85 L617.75 624.35 L619.02 624.84 L620.30 625.33 L621.57 625.82 L622.84 626.31 L624.11 626.79 L625.38 627.27 L626.65 627.75 L627.93 628.23 L629.20 628.71 L630.47 629.18 L631.74 629.65 L633.01 630.12 L634.28 630.59 L635.56 631.05 L636.83 631.52 L638.10 631.98 L639.37 632.44 L640.64 632.90 L641.91 633.35 L643.19 633.81 L644.46 634.26 L645.73 634.71 L647.00 635.16" fill="none" stroke="#000" stroke-width="1.6" stroke-dasharray="8.55 8.55" stroke-dashoffset="1.0"/>
<path d="M393.95 540.81 L395.34 540.79 L396.72 540.77 L398.11 540.76 L399.50 540.76 L400.89 540.77 L402.27 540.79 L403.66 540.82 L405.05 540.86 L406.43 540.90 L407.82 540.95 L409.21 541.01 L410.60 541.08 L411.98 541.16 L413.37 541.24 L414.76 541.33 L416.14 541.43 L417.53 541.54 L418.92 541.65 L420.31 541.77 L421.69 541.90 L423.08 542.04 L424.47 542.18 L425.86 542.33 L427.24 542.48 L428.63 542.65 L430.02 542.82 L431.40 542.99 L432.79 543.17 L434.18 543.36 L435.57 543.55 L436.95 543.75 L438.34 543.96 L439.73 544.17 L441.11 544.39 L442.50 544.61 L443.89 544.84 L445.28 545.07 L446.66 545.31 L448.05 545.56 L449.44 545.80 L450.82 546.06 L452.21 546.32 L453.60 546.58 L454.99 546.85 L456.37 547.13 L457.76 547.41 L459.15 547.69 L460.53 547.98 L461.92 548.27 L463.31 548.56 L464.70 548.86 L466.08 549.17 L467.47 549.48 L468.86 549.79 L470.25 550.11 L471.63 550.43 L473.02 550.75 L474.41 551.08 L475.79 551.41 L477.18 551.74 L478.57 552.08 L479.96 552.42 L481.34 552.77 L482.73 553.11 L484.12 553.47 L485.50 553.82 L486.89 554.18 L488.28 554.54 L489.67 554.90 L491.05 555.26 L492.44 555.63 L493.83 556.00 L495.21 556.37 L496.60 556.75 L497.99 557.13 L499.38 557.51 L500.76 557.89 L502.15 558.27 L503.54 558.66 L504.92 559.05 L506.31 559.44 L507.70 559.83 L509.09 560.22 L510.47 560.62 L511.86 561.02 L513.25 561.42 L514.64 561.82 L516.02 562.22 L517.41 562.63 L518.80 563.03 L520.18 563.44 L521.57 563.85 L522.96 564.25 L524.35 564.66 L525.73 565.08 L527.12 565.49 L528.51 565.90 L529.89 566.32 L531.28 566.73 L532.67 567.15 L534.06 567.57 L535.44 567.98 L536.83 568.40 L538.22 568.82 L539.60 569.24 L540.99 569.66 L542.38 570.08 L543.77 570.51 L545.15 570.93 L546.54 571.35 L547.93 571.77 L549.31 572.20 L550.70 572.62 L552.09 573.04 L553.48 573.47 L554.86 573.89 L556.25 574.31 L557.64 574.74 L559.03 575.16 L560.41 575.58 L561.80 576.01 L563.19 576.43 L564.57 576.85 L565.96 577.28 L567.35 577.70 L568.74 578.12 L570.12 578.54 L571.51 578.97 L572.90 579.39 L574.28 579.81 L575.67 580.23 L577.06 580.65 L578.45 581.07 L579.83 581.49 L581.22 581.91 L582.61 582.32 L583.99 582.74 L585.38 583.16 L586.77 583.57 L588.16 583.99 L589.54 584.40 L590.93 584.82 L592.32 585.23 L593.70 585.64 L595.09 586.05 L596.48 586.46 L597.87 586.87 L599.25 587.28 L600.64 587.69 L602.03 588.10 L603.42 588.50 L604.80 588.91 L606.19 589.31 L607.58 589.71 L608.96 590.11 L610.35 590.51 L611.74 590.91 L613.13 591.31 L614.51 591.71 L615.90 592.11 L617.29 592.50 L618.67 592.89 L620.06 593.29 L621.45 593.68 L622.84 594.07 L624.22 594.46 L625.61 594.85 L627.00 595.23 L628.38 595.62 L629.77 596.00 L631.16 596.39 L632.55 596.77 L633.93 597.15 L635.32 597.53 L636.71 597.91 L638.09 598.28 L639.48 598.66 L640.87 599.03 L642.26 599.41 L643.64 599.78 L645.03 600.15 L646.42 600.52 L647.81 600.89 L649.19 601.25 L650.58 601.62 L651.97 601.98 L653.35 602.34 L654.74 602.71 L656.13 603.07 L657.52 603.43 L658.90 603.78 L660.29 604.14 L661.68 604.50 L663.06 604.85 L664.45 605.20 L665.84 605.55 L667.23 605.91 L668.61 606.25 L670.00 606.60" fill="none" stroke="#00f" stroke-width="1.9" stroke-dasharray="8.55 8.55" stroke-dashoffset="1.5"/><path d="M393.95 540.81 L395.34 540.79 L396.72 540.77 L398.11 540.76 L399.50 540.76 L400.89 540.77 L402.27 540.79 L403.66 540.82 L405.05 540.86 L406.43 540.90 L407.82 540.95 L409.21 541.01 L410.60 541.08 L411.98 541.16 L413.37 541.24 L414.76 541.33 L416.14 541.43 L417.53 541.54 L418.92 541.65 L420.31 541.77 L421.69 541.90 L423.08 542.04 L424.47 542.18 L425.86 542.33 L427.24 542.48 L428.63 542.65 L430.02 542.82 L431.40 542.99 L432.79 543.17 L434.18 543.36 L435.57 543.55 L436.95 543.75 L438.34 543.96 L439.73 544.17 L441.11 544.39 L442.50 544.61 L443.89 544.84 L445.28 545.07 L446.66 545.31 L448.05 545.56 L449.44 545.80 L450.82 546.06 L452.21 546.32 L453.60 546.58 L454.99 546.85 L456.37 547.13 L457.76 547.41 L459.15 547.69 L460.53 547.98 L461.92 548.27 L463.31 548.56 L464.70 548.86 L466.08 549.17 L467.47 549.48 L468.86 549.79 L470.25 550.11 L471.63 550.43 L473.02 550.75 L474.41 551.08 L475.79 551.41 L477.18 551.74 L478.57 552.08 L479.96 552.42 L481.34 552.77 L482.73 553.11 L484.12 553.47 L485.50 553.82 L486.89 554.18 L488.28 554.54 L489.67 554.90 L491.05 555.26 L492.44 555.63 L493.83 556.00 L495.21 556.37 L496.60 556.75 L497.99 557.13 L499.38 557.51 L500.76 557.89 L502.15 558.27 L503.54 558.66 L504.92 559.05 L506.31 559.44 L507.70 559.83 L509.09 560.22 L510.47 560.62 L511.86 561.02 L513.25 561.42 L514.64 561.82 L516.02 562.22 L517.41 562.63 L518.80 563.03 L520.18 563.44 L521.57 563.85 L522.96 564.25 L524.35 564.66 L525.73 565.08 L527.12 565.49 L528.51 565.90 L529.89 566.32 L531.28 566.73 L532.67 567.15 L534.06 567.57 L535.44 567.98 L536.83 568.40 L538.22 568.82 L539.60 569.24 L540.99 569.66 L542.38 570.08 L543.77 570.51 L545.15 570.93 L546.54 571.35 L547.93 571.77 L549.31 572.20 L550.70 572.62 L552.09 573.04 L553.48 573.47 L554.86 573.89 L556.25 574.31 L557.64 574.74 L559.03 575.16 L560.41 575.58 L561.80 576.01 L563.19 576.43 L564.57 576.85 L565.96 577.28 L567.35 577.70 L568.74 578.12 L570.12 578.54 L571.51 578.97 L572.90 579.39 L574.28 579.81 L575.67 580.23 L577.06 580.65 L578.45 581.07 L579.83 581.49 L581.22 581.91 L582.61 582.32 L583.99 582.74 L585.38 583.16 L586.77 583.57 L588.16 583.99 L589.54 584.40 L590.93 584.82 L592.32 585.23 L593.70 585.64 L595.09 586.05 L596.48 586.46 L597.87 586.87 L599.25 587.28 L600.64 587.69 L602.03 588.10 L603.42 588.50 L604.80 588.91 L606.19 589.31 L607.58 589.71 L608.96 590.11 L610.35 590.51 L611.74 590.91 L613.13 591.31 L614.51 591.71 L615.90 592.11 L617.29 592.50 L618.67 592.89 L620.06 593.29 L621.45 593.68 L622.84 594.07 L624.22 594.46 L625.61 594.85 L627.00 595.23 L628.38 595.62 L629.77 596.00 L631.16 596.39 L632.55 596.77 L633.93 597.15 L635.32 597.53 L636.71 597.91 L638.09 598.28 L639.48 598.66 L640.87 599.03 L642.26 599.41 L643.64 599.78 L645.03 600.15 L646.42 600.52 L647.81 600.89 L649.19 601.25 L650.58 601.62 L651.97 601.98 L653.35 602.34 L654.74 602.71 L656.13 603.07 L657.52 603.43 L658.90 603.78 L660.29 604.14 L661.68 604.50 L663.06 604.85 L664.45 605.20 L665.84 605.55 L667.23 605.91 L668.61 606.25 L670.00 606.60" fill="none" stroke="#00f" stroke-width="3.6" stroke-linecap="round" stroke-dasharray="0 17.1" stroke-dashoffset="-11.325000000000001"/>
<path d="M393.95 583.22 L395.34 582.68 L396.72 582.14 L398.11 581.62 L399.50 581.11 L400.89 580.61 L402.27 580.12 L403.66 579.64 L405.05 579.17 L406.43 578.71 L407.82 578.26 L409.21 577.83 L410.60 577.40 L411.98 576.98 L413.37 576.57 L414.76 576.18 L416.14 575.79 L417.53 575.41 L418.92 575.04 L420.31 574.69 L421.69 574.34 L423.08 574.00 L424.47 573.67 L425.86 573.34 L427.24 573.03 L428.63 572.72 L430.02 572.43 L431.40 572.14 L432.79 571.86 L434.18 571.59 L435.57 571.33 L436.95 571.07 L438.34 570.82 L439.73 570.58 L441.11 570.35 L442.50 570.13 L443.89 569.91 L445.28 569.70 L446.66 569.50 L448.05 569.30 L449.44 569.11 L450.82 568.93 L452.21 568.76 L453.60 568.59 L454.99 568.43 L456.37 568.28 L457.76 568.13 L459.15 567.99 L460.53 567.85 L461.92 567.72 L463.31 567.60 L464.70 567.48 L466.08 567.37 L467.47 567.26 L468.86 567.17 L470.25 567.07 L471.63 566.98 L473.02 566.90 L474.41 566.82 L475.79 566.75 L477.18 566.68 L478.57 566.62 L479.96 566.56 L481.34 566.51 L482.73 566.47 L484.12 566.42 L485.50 566.39 L486.89 566.35 L488.28 566.32 L489.67 566.30 L491.05 566.28 L492.44 566.27 L493.83 566.26 L495.21 566.25 L496.60 566.25 L497.99 566.25 L499.38 566.25 L500.76 566.26 L502.15 566.28 L503.54 566.30 L504.92 566.32 L506.31 566.34 L507.70 566.37 L509.09 566.40 L510.47 566.44 L511.86 566.48 L513.25 566.52 L514.64 566.56 L516.02 566.61 L517.41 566.66 L518.80 566.72 L520.18 566.78 L521.57 566.84 L522.96 566.90 L524.35 566.97 L525.73 567.04 L527.12 567.11 L528.51 567.19 L529.89 567.27 L531.28 567.35 L532.67 567.43 L534.06 567.52 L535.44 567.61 L536.83 567.70 L538.22 567.79 L539.60 567.89 L540.99 567.99 L542.38 568.09 L543.77 568.19 L545.15 568.29 L546.54 568.40 L547.93 568.51 L549.31 568.62 L550.70 568.74 L552.09 568.85 L553.48 568.97 L554.86 569.09 L556.25 569.21 L557.64 569.34 L559.03 569.46 L560.41 569.59 L561.80 569.72 L563.19 569.85 L564.57 569.98 L565.96 570.12 L567.35 570.26 L568.74 570.39 L570.12 570.53 L571.51 570.68 L572.90 570.82 L574.28 570.96 L575.67 571.11 L577.06 571.26 L578.45 571.41 L579.83 571.56 L581.22 571.71 L582.61 571.87 L583.99 572.02 L585.38 572.18 L586.77 572.34 L588.16 572.50 L589.54 572.66 L590.93 572.83 L592.32 572.99 L593.70 573.16 L595.09 573.32 L596.48 573.49 L597.87 573.66 L599.25 573.84 L600.64 574.01 L602.03 574.18 L603.42 574.36 L604.80 574.54 L606.19 574.72 L607.58 574.90 L608.96 575.08 L610.35 575.26 L611.74 575.45 L613.13 575.64 L614.51 575.82 L615.90 576.01 L617.29 576.20 L618.67 576.40 L620.06 576.59 L621.45 576.79 L622.84 576.98 L624.22 577.18 L625.61 577.38 L627.00 577.58 L628.38 577.78 L629.77 577.99 L631.16 578.20 L632.55 578.40 L633.93 578.61 L635.32 578.82 L636.71 579.04 L638.09 579.25 L639.48 579.47 L640.87 579.68 L642.26 579.90 L643.64 580.13 L645.03 580.35 L646.42 580.57 L647.81 580.80 L649.19 581.03 L650.58 581.26 L651.97 581.49 L653.35 581.73 L654.74 581.97 L656.13 582.21 L657.52 582.45 L658.90 582.69 L660.29 582.94 L661.68 583.18 L663.06 583.43 L664.45 583.69 L665.84 583.94 L667.23 584.20 L668.61 584.46 L670.00 584.72" fill="none" stroke="#f00" stroke-width="1.85"/>
</g>
<path d="M166.5 532 H209.5" fill="none" stroke="#000" stroke-width="1.6" stroke-dasharray="8.55 8.55" stroke-dashoffset="0"/>
<path d="M166.5 564.2 H209.5" fill="none" stroke="#00f" stroke-width="1.9" stroke-dasharray="8.55 8.55" stroke-dashoffset="0"/><path d="M166.5 564.2 H209.5" fill="none" stroke="#00f" stroke-width="3.6" stroke-linecap="round" stroke-dasharray="0 17.1" stroke-dashoffset="-12.825000000000001"/>
<path d="M166.5 596.2 H212" fill="none" stroke="#f00" stroke-width="1.85"/>
<path d="M172 627.8 H210" fill="none" stroke="#000" stroke-width="2.8" stroke-linecap="round" stroke-dasharray="0 11.7" stroke-dashoffset="0"/>
<path d="M422.8 717 H464" fill="none" stroke="#f00" stroke-width="1.85"/>
<path d="M422.8 748.6 H464" fill="none" stroke="#00f" stroke-width="1.9" stroke-dasharray="8.55 8.55" stroke-dashoffset="0"/><path d="M422.8 748.6 H464" fill="none" stroke="#00f" stroke-width="3.6" stroke-linecap="round" stroke-dasharray="0 17.1" stroke-dashoffset="-12.825000000000001"/>
<text x="36.0" y="791.7" font-size="18" text-anchor="end" fill="#000">0</text>
<text x="384.8" y="791.7" font-size="18" text-anchor="end" fill="#000">0</text>
<text x="36.0" y="700.9" font-size="18" text-anchor="end" fill="#000">20</text>
<text x="384.8" y="700.9" font-size="18" text-anchor="end" fill="#000">20</text>
<text x="36.0" y="610.2" font-size="18" text-anchor="end" fill="#000">40</text>
<text x="384.8" y="610.2" font-size="18" text-anchor="end" fill="#000">40</text>
<text x="36.0" y="519.4" font-size="18" text-anchor="end" fill="#000">60</text>
<text x="384.8" y="519.4" font-size="18" text-anchor="end" fill="#000">60</text>
<text x="36.0" y="428.6" font-size="18" text-anchor="end" fill="#000">80</text>
<text x="384.8" y="428.6" font-size="18" text-anchor="end" fill="#000">80</text>
<text x="45.9" y="810.1" font-size="18" text-anchor="middle" fill="#000">100</text>
<text x="121.7" y="810.1" font-size="18" text-anchor="middle" fill="#000">150</text>
<text x="197.4" y="810.1" font-size="18" text-anchor="middle" fill="#000">200</text>
<text x="273.1" y="810.1" font-size="18" text-anchor="middle" fill="#000">250</text>
<text x="348.8" y="810.1" font-size="18" text-anchor="middle" fill="#000">300</text>
<text x="423.3" y="819.5" font-size="20.5" text-anchor="middle" fill="#000">0.2</text>
<text x="515.5" y="819.5" font-size="20.5" text-anchor="middle" fill="#000">0.5</text>
<text x="586.1" y="817.8" font-size="17" text-anchor="middle" fill="#000">1</text>
<text x="650.5" y="817.8" font-size="17" text-anchor="start" fill="#000">2</text>
<text x="155.9" y="837.6" font-size="20.5" text-anchor="start" fill="#000">M</text>
<text x="175.0" y="845.0" font-size="14" text-anchor="start" fill="#000">H</text>
<text x="185.4" y="837.6" font-size="20.5" text-anchor="start" fill="#000">(GeV)</text>
<text x="443.7" y="837.5" font-size="20" text-anchor="start" fill="#000">&#956;</text>
<text x="456.3" y="844.4" font-size="14" text-anchor="start" fill="#000">r</text>
<text x="464.9" y="837.5" font-size="20" text-anchor="start" fill="#000">/</text>
<text x="473.7" y="837.5" font-size="20" text-anchor="start" fill="#000">M</text>
<text x="491.7" y="844.6" font-size="14" text-anchor="start" fill="#000">H</text>
<text transform="translate(121.0 475.2) scale(1.22 1)" font-size="22">&#963;</text>
<text x="135.3" y="475.2" font-size="22" text-anchor="start" fill="#000">(pp</text>
<path d="M172 469.3 H192.4 M186.9 463.7 L192.7 469.3 L186.9 474.9" fill="none" stroke="#000" stroke-width="1.3" stroke-linejoin="miter"/>
<text x="200.0" y="475.2" font-size="22" text-anchor="start" fill="#000">H+X)</text>
<text x="260.1" y="475.2" font-size="22" text-anchor="start" fill="#000">[pb]</text>
<text transform="translate(482.5 475.2) scale(1.22 1)" font-size="22">&#963;</text>
<text x="496.8" y="475.2" font-size="22" text-anchor="start" fill="#000">(pp</text>
<path d="M533.5 469.3 H553.9 M548.4 463.7 L554.2 469.3 L548.4 474.9" fill="none" stroke="#000" stroke-width="1.3" stroke-linejoin="miter"/>
<text x="561.5" y="475.2" font-size="22" text-anchor="start" fill="#000">H+X)</text>
<text x="621.6" y="475.2" font-size="22" text-anchor="start" fill="#000">[pb]</text>
<text x="505.0" y="510.9" font-size="20.5" text-anchor="start" fill="#000">M</text>
<text x="523.0" y="517.9" font-size="14.6" text-anchor="start" fill="#000">H</text>
<text x="538.7" y="510.9" font-size="20.5" text-anchor="start" fill="#000">= 120 GeV</text>
<text x="226.9" y="538.8" font-size="18" text-anchor="start" fill="#000">NLO</text>
<text x="226.8" y="570.6" font-size="18" text-anchor="start" fill="#00f">N<tspan font-size="13" dy="-8.8">2</tspan><tspan dy="8.8" font-size="1">&#8203;</tspan>LO</text>
<text x="226.8" y="602.0" font-size="18" text-anchor="start" fill="#f00">N<tspan font-size="13" dy="-8.8">3</tspan><tspan dy="8.8" font-size="1">&#8203;</tspan>LO<tspan font-size="13" dy="6.6">approx.</tspan><tspan dy="-6.6" font-size="1">&#8203;</tspan></text>
<text x="226.8" y="633.8" font-size="18" text-anchor="start" fill="#000">+</text>
<text x="241.9" y="633.8" font-size="18" text-anchor="start" fill="#000">N<tspan font-size="13" dy="-8.8">3</tspan><tspan dy="8.8" font-size="1">&#8203;</tspan>LL</text>
<text x="60.6" y="660.2" font-size="18" text-anchor="start" fill="#000">LO</text>
<text x="60.7" y="769" font-size="18" text-anchor="start" fill="#000">&#8730;s</text>
<text transform="translate(81.3 769) scale(1.23 1)" font-size="18">=</text>
<text x="97.5" y="769" font-size="18" text-anchor="start" fill="#000">14 TeV</text>
<text x="479.2" y="723.6" font-size="18" text-anchor="start" fill="#f00">N<tspan font-size="13" dy="-8.8">3</tspan><tspan dy="8.8" font-size="1">&#8203;</tspan>LO<tspan font-size="13" dy="6.3">approx</tspan><tspan dy="-6.3" font-size="1">&#8203;</tspan></text>
<text x="479.3" y="755.2" font-size="18" text-anchor="start" fill="#00f">N<tspan font-size="13" dy="-8.8">2</tspan><tspan dy="8.8" font-size="1">&#8203;</tspan>LO</text>
<text x="633.3" y="664.6" font-size="18" text-anchor="start" fill="#000">NLO</text>
<text x="632.9" y="728.2" font-size="18" text-anchor="start" fill="#000">LO</text>
</svg>
</body></html>
